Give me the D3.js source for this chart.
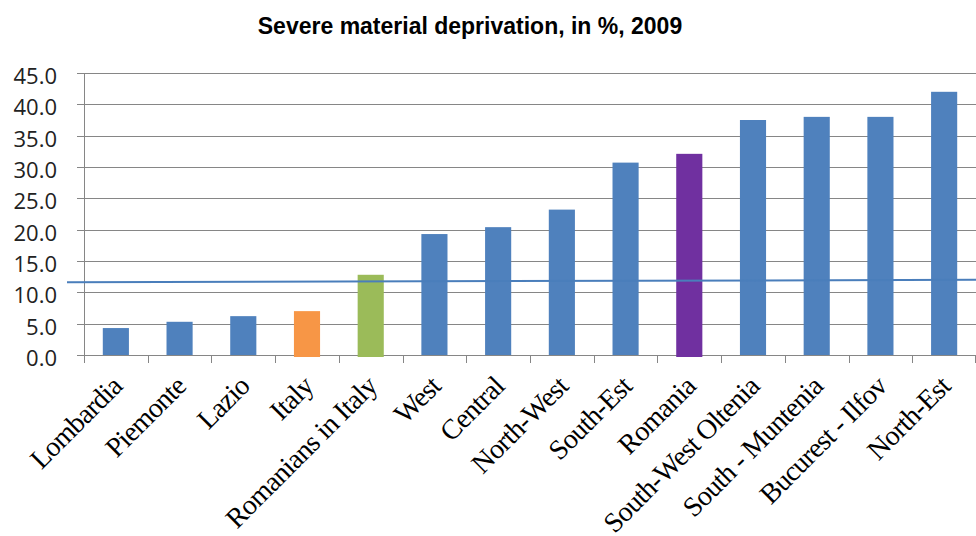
<!DOCTYPE html>
<html>
<head>
<meta charset="utf-8">
<script src="https://cdn.jsdelivr.net/npm/d3@7"></script>
<style>
  body { margin: 0; background: #fff; }
</style>
</head>
<body>
<div id="chart"></div>
<script>
// data
var categories = ["Lombardia", "Piemonte", "Lazio", "Italy", "Romanians in Italy", "West", "Central",
  "North-West", "South-Est", "Romania", "South-West Oltenia", "South - Muntenia", "Bucurest - Ilfov", "North-Est"];
var values = [4.3, 5.3, 6.2, 7.0, 12.8, 19.3, 20.4, 23.2, 30.7, 32.1, 37.5, 38.0, 38.0, 42.0];
var barColors = ["#4f81bd", "#4f81bd", "#4f81bd", "#f79646", "#9bbb59", "#4f81bd", "#4f81bd",
  "#4f81bd", "#4f81bd", "#7030a0", "#4f81bd", "#4f81bd", "#4f81bd", "#4f81bd"];
var yTicks = [0, 5, 10, 15, 20, 25, 30, 35, 40, 45];
// the hand drawn reference line, value at its left and right end
var refLine = [11.6, 12.0];

var width = 976, height = 536;
var plotLeft = 84, plotRight = 976, plotTop = 73, plotBottom = 355;

var svg = d3.select('#chart').append('svg')
  .attr('width', width)
  .attr('height', height);

var x = d3.scaleBand().domain(categories).range([plotLeft, plotRight]).paddingInner(0.59).paddingOuter(0.295);
var y = d3.scaleLinear().domain([0, 45]).range([plotBottom, plotTop]);

// title
svg.append('text')
  .attr('x', 470).attr('y', 34)
  .attr('text-anchor', 'middle')
  .style('font-family', 'Liberation Sans, Arial, sans-serif')
  .style('font-weight', 'bold')
  .style('font-size', '23px')
  .text('Severe material deprivation, in %, 2009');

// gridlines + y labels
svg.append('g').selectAll('line').data(yTicks).enter().append('line')
  .attr('x1', plotLeft - 7).attr('x2', plotRight)
  .attr('y1', function (d) { return Math.round(y(d)) + 0.5; })
  .attr('y2', function (d) { return Math.round(y(d)) + 0.5; })
  .attr('stroke', '#868686')
  .attr('stroke-width', 1);

svg.append('g').selectAll('text').data(yTicks).enter().append('text')
  .attr('x', 57)
  .attr('y', function (d) { return y(d) + 11; })
  .attr('text-anchor', 'end')
  .style('font-family', 'Open Sans, sans-serif')
  .style('font-size', '22px')
  .attr('fill', '#222')
  .text(function (d) { return d.toFixed(1); });

// y axis line
svg.append('line')
  .attr('x1', plotLeft + 0.5).attr('x2', plotLeft + 0.5)
  .attr('y1', plotTop).attr('y2', plotBottom + 8)
  .attr('stroke', '#868686');

// category ticks
var bounds = categories.map(function (c, i) { return plotLeft + i * x.step(); });
bounds.push(plotRight - 1);
svg.append('g').selectAll('line').data(bounds.slice(1)).enter().append('line')
  .attr('x1', function (d) { return Math.round(d) + 0.5; }).attr('x2', function (d) { return Math.round(d) + 0.5; })
  .attr('y1', plotBottom).attr('y2', plotBottom + 8)
  .attr('stroke', '#868686');

// bars
svg.append('g').selectAll('rect').data(values).enter().append('rect')
  .attr('x', function (d, i) { return x(categories[i]); })
  .attr('width', x.bandwidth())
  .attr('y', function (d) { return y(d); })
  .attr('height', function (d, i) {
    var h = y(0) - y(d);
    // coloured bars poke a little below the axis in the original
    return barColors[i] == "#4f81bd" ? h : h + 2;
  })
  .attr('fill', function (d, i) { return barColors[i]; });

// reference line
svg.append('line')
  .attr('x1', 67).attr('x2', plotRight)
  .attr('y1', y(refLine[0])).attr('y2', y(refLine[1]))
  .attr('stroke', '#4a7ebb')
  .attr('stroke-width', 2);

// x labels
svg.append('g').selectAll('text').data(categories).enter().append('text')
  .attr('transform', function (d) {
    return 'translate(' + (x(d) + x.bandwidth() / 2 + 1) + ',' + 381 + ') rotate(-45)';
  })
  .attr('text-anchor', 'end')
  .attr('dy', '0.35em')
  .style('font-family', 'Liberation Serif, Times New Roman, serif')
  .style('font-size', '28px')
  .style('letter-spacing', '-0.7px')
  .attr('fill', '#000')
  .text(function (d) { return d; });
</script>
</body>
</html>
